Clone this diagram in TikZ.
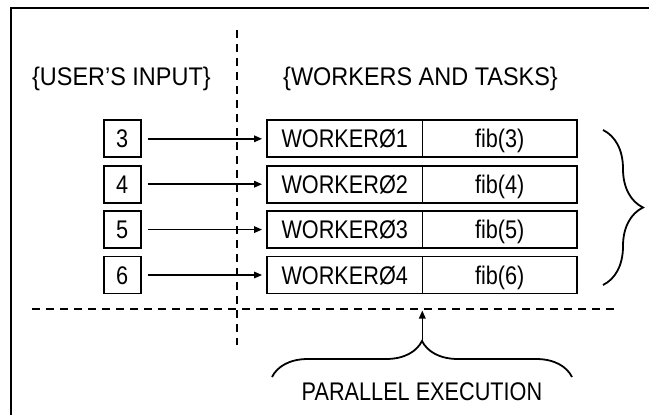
\documentclass[tikz,border=0pt]{standalone}
\usepackage{fontspec}
\setmainfont[FakeStretch=0.85]{Liberation Sans}
\newfontfamily\headfont[FakeStretch=0.92]{Liberation Sans}
\usetikzlibrary{arrows.meta,decorations.pathreplacing}
\begin{document}
\begin{tikzpicture}[x=1pt,y=-1pt,
  txt/.style={font=\fontsize{25.5}{30}\selectfont, inner sep=0pt},
  head/.style={font=\headfont\fontsize{25.5}{30}\selectfont, inner sep=0pt},
  cell/.style={txt, draw, line width=1.8pt, minimum height=37pt, text height=18.2pt, text depth=0pt},
  numbox/.style={cell, minimum width=37pt},
  namebox/.style={cell, minimum width=155.5pt},
  taskbox/.style={cell, minimum width=154.5pt},
  feed/.style={line width=1.5pt, -{Triangle[length=8pt,width=6.5pt]}, shorten <=6pt, shorten >=4pt},
  divider/.style={line width=2pt, dash pattern=on 8pt off 6pt},
  bracepath/.style={line width=1.8pt, decorate, decoration={brace, amplitude=#1}}
]
\useasboundingbox (0,0) rectangle (649,415);
\clip (0,0) rectangle (649,415);
\draw[line width=2pt] (11,8) rectangle (670,440);

% dividers
\coordinate (vt) at (236.7,30);
\coordinate (vb) at (236.7,345);
\coordinate (hl) at (32,309.3);
\coordinate (hr) at (615,309.3);
\draw[divider] (vt) -- (vb);
\draw[divider] (hl) -- (hr);

% headings
\node[head, anchor=base] (hin) at (121.4,85.3) {\{USER’S INPUT\}};
\node[head, anchor=base] (hwk) at (420.5,85.3) {\{WORKERS AND TASKS\}};

% rows
\foreach \i/\n/\y in {1/3/138.8, 2/4/184.2, 3/5/229.6, 4/6/275}{
  \node[numbox] (n\i) at (122.2,\y) {\n};
  \node[namebox] (w\i) at (344.75,\y) {WORKERØ\i};
  \node[taskbox] (t\i) at (499.75,\y) {fib(\n)};
  \draw[feed] (n\i.east) -- (w\i.west);
}

% right brace
\coordinate (rbt) at (603,130);
\coordinate (rbb) at (603,285);
\draw[bracepath=40pt] (rbt) -- (rbb);

% bottom brace and arrow
\coordinate (bbl) at (272,377);
\coordinate (bbr) at (572,377);
\draw[bracepath=36pt] (bbl) -- (bbr);
\coordinate (btip) at (422.3,341);
\coordinate (bup) at (422.3,310.5);
\draw[line width=1.5pt, -{Triangle[length=8pt,width=6.5pt]}] (btip) -- (bup);

\node[txt, anchor=base] (par) at (422,400) {PARALLEL EXECUTION};
\end{tikzpicture}
\end{document}
